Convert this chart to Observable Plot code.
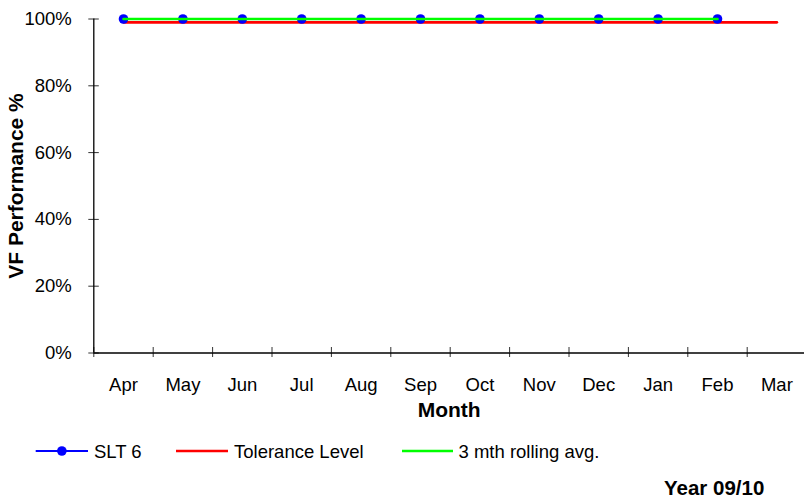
<!DOCTYPE html>
<html>
<head>
<meta charset="utf-8">
<script src="https://cdn.jsdelivr.net/npm/d3@7"></script>
<script src="https://cdn.jsdelivr.net/npm/@observablehq/plot@0.6"></script>
<style>
  html, body { margin: 0; padding: 0; background: #fff; }
  #wrap { position: relative; width: 804px; height: 499px; overflow: hidden; font-family: "Liberation Sans", Arial, sans-serif; }
  #chart { position: absolute; left: 0; top: 0; }
  #legend { position: absolute; left: 0; top: 430px; }
</style>
</head>
<body>
<div id="wrap">
  <div id="chart"></div>
  <div id="legend"></div>
</div>
<script>
// ---- data ----
const months = ["Apr", "May", "Jun", "Jul", "Aug", "Sep", "Oct", "Nov", "Dec", "Jan", "Feb", "Mar"];
const slt6 = [1, 1, 1, 1, 1, 1, 1, 1, 1, 1, 1];
const tolerance = [0.99, 0.99, 0.99, 0.99, 0.99, 0.99, 0.99, 0.99, 0.99, 0.99, 0.99, 0.99];
const rolling = [1, 1, 1, 1, 1, 1, 1, 1, 1, 1, 1];
const yTicks = [0, 0.2, 0.4, 0.6, 0.8, 1];
const seriesNames = ["SLT 6", "Tolerance Level", "3 mth rolling avg."];
const seriesColors = ["#0000ff", "#ff0000", "#00ff00"];
const footnote = "Year 09/10";

// month index -> band centre position on a linear scale
const toRows = (vals) => vals.map((v, i) => ({ x: i + 0.5, y: v, month: months[i] }));
const sltRows = toRows(slt6);
const tolRows = toRows(tolerance);
const rollRows = toRows(rolling);
const boundaryTicks = months.map((m, i) => i);
const centreTicks = months.map((m, i) => i + 0.5);

const W = 804, H = 430;
const mL = 93.3, mT = 18.5, mB = H - 352.5;
const FONT = "Liberation Sans, Arial, sans-serif";

const plot = Plot.plot({
  width: W,
  height: H,
  marginLeft: mL,
  marginRight: 0,
  marginTop: mT,
  marginBottom: mB,
  style: { fontFamily: FONT, fontSize: "18.5px", color: "#000", background: "#fff", overflow: "visible" },
  x: { type: "linear", domain: [0, 12], range: [mL, 806.1] },
  y: { domain: [0, 1] },
  marks: [
    // y axis: labels + outward ticks, and inward ticks
    Plot.axisY({ ticks: yTicks, tickFormat: d3.format(".0%"), tickSize: 5, tickPadding: 17, fontSize: 18.5, stroke: "#333", label: null }),
    Plot.axisY({ ticks: yTicks, tickSize: -5.5, text: null, stroke: "#333", label: null }),
    Plot.axisY({ ticks: [], label: "VF Performance %", labelAnchor: "center", labelOffset: 86, fontSize: 21, fontWeight: "bold", labelArrow: "none" }),
    // x axis: boundary ticks crossing axis, labels at centres
    Plot.axisX({ ticks: boundaryTicks, tickSize: 4.5, text: null, stroke: "#333", label: null }),
    Plot.axisX({ ticks: boundaryTicks, tickSize: -5.5, text: null, stroke: "#333", label: null }),
    Plot.axisX({ ticks: centreTicks, tickSize: 0, tickPadding: 25, tickFormat: (d) => months[Math.round(d - 0.5)], fontSize: 18.5, label: null }),
    Plot.text(["Month"], { frameAnchor: "bottom", dy: 57.5, lineAnchor: "middle", fontSize: 21, fontWeight: "bold", fill: "#000" }),
    // axis lines
    Plot.ruleX([0], { stroke: "#000", strokeWidth: 1.3 }),
    Plot.ruleY([0], { stroke: "#000", strokeWidth: 1.3 }),
    // series
    Plot.line(tolRows, { x: "x", y: "y", stroke: seriesColors[1], strokeWidth: 2.6 }),
    Plot.line(sltRows, { x: "x", y: "y", stroke: seriesColors[0], strokeWidth: 2 }),
    Plot.dot(sltRows, { x: "x", y: "y", r: 4.8, fill: seriesColors[0], stroke: "none" }),
    Plot.line(rollRows, { x: "x", y: "y", stroke: seriesColors[2], strokeWidth: 2.6 })
  ]
});
document.getElementById("chart").appendChild(plot);

// ---- legend (below the plot) ----
const lg = d3.select("#legend").append("svg")
  .attr("width", W).attr("height", 69)
  .style("font-family", FONT);
const items = [
  { name: seriesNames[0], color: seriesColors[0], x1: 35.7, x2: 88, tx: 94, dot: true },
  { name: seriesNames[1], color: seriesColors[1], x1: 176, x2: 228, tx: 234, dot: false },
  { name: seriesNames[2], color: seriesColors[2], x1: 402, x2: 453, tx: 458.5, dot: false }
];
const ly = 21;
items.forEach((it) => {
  lg.append("line").attr("x1", it.x1).attr("x2", it.x2).attr("y1", ly).attr("y2", ly)
    .attr("stroke", it.color).attr("stroke-width", it.dot ? 2 : 2.6);
  if (it.dot) lg.append("circle").attr("cx", (it.x1 + it.x2) / 2).attr("cy", ly).attr("r", 4.8).attr("fill", it.color);
  lg.append("text").attr("x", it.tx).attr("y", 28.2).attr("font-size", 18.5).attr("fill", "#000").text(it.name);
});
lg.append("text").attr("x", 664).attr("y", 64.5).attr("font-size", 20.5).attr("font-weight", "bold").attr("fill", "#000").text(footnote);
</script>
</body>
</html>
